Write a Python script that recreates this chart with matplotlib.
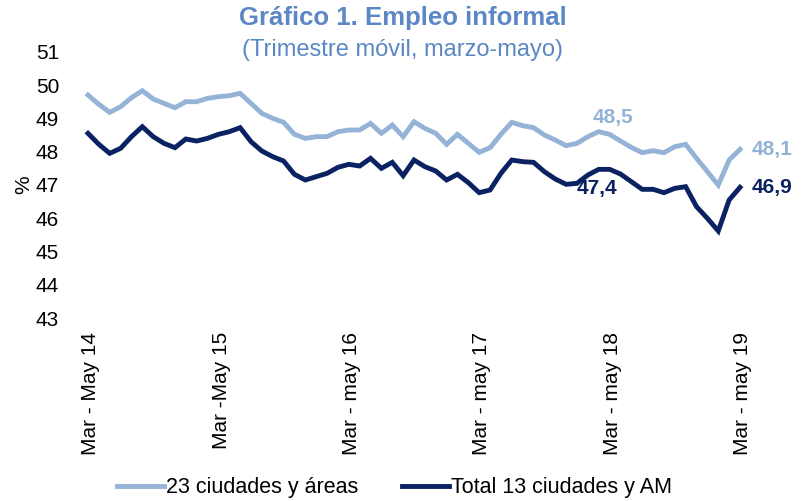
import matplotlib
matplotlib.use('Agg')
import matplotlib.pyplot as plt
import numpy as np


# ----------------------------------------------------------------------------------------
#                             DATA AREA

# trimestre movil, marzo-mayo 2014 -> marzo-mayo 2019 (61 meses)
ciudades_23 = [49.70, 49.42, 49.18, 49.35, 49.62, 49.83, 49.58, 49.45, 49.32, 49.50,
               49.50, 49.60, 49.65, 49.68, 49.75, 49.45, 49.15, 49.00, 48.88, 48.52,
               48.40, 48.45, 48.45, 48.60, 48.65, 48.65, 48.85, 48.55, 48.80, 48.45,
               48.90, 48.70, 48.55, 48.22, 48.52, 48.25, 47.98, 48.12, 48.52, 48.88,
               48.78, 48.72, 48.50, 48.35, 48.18, 48.25, 48.45, 48.60, 48.52, 48.32,
               48.13, 47.97, 48.03, 47.97, 48.15, 48.22, 47.80, 47.40, 47.00, 47.75,
               48.07]

total_13 = [48.55, 48.22, 47.95, 48.10, 48.45, 48.75, 48.45, 48.25, 48.12, 48.38,
            48.32, 48.40, 48.52, 48.60, 48.72, 48.30, 48.02, 47.85, 47.72, 47.32,
            47.15, 47.25, 47.35, 47.53, 47.62, 47.57, 47.80, 47.50, 47.68, 47.28,
            47.75, 47.55, 47.42, 47.15, 47.32, 47.07, 46.77, 46.85, 47.35, 47.75,
            47.70, 47.68, 47.40, 47.18, 47.02, 47.05, 47.30, 47.47, 47.47, 47.33,
            47.10, 46.87, 46.87, 46.77, 46.90, 46.95, 46.35, 46.00, 45.62, 46.55,
            46.93]

tick_pos    = [0, 12, 24, 36, 48, 60]
tick_labels = ["Mar - May 14", "Mar -May 15", "Mar - may 16",
               "Mar - may 17", "Mar - may 18", "Mar - may 19"]

# etiquetas de valor: (indice, texto)
labels_23 = [(48, "48,5"), (60, "48,1")]
labels_13 = [(48, "47,4"), (60, "46,9")]

serie_23 = "23 ciudades y áreas"
serie_13 = "Total 13 ciudades y AM"


# ----------------------------------------------------------------------------------------
#                             PLOTTING AREA

light = '#95B3D7'
dark = '#0B2262'
title_col = '#5B87C5'
plt.rcParams['font.family'] = ['Liberation Sans', 'DejaVu Sans']

fig = plt.figure(figsize=(8.05, 5.01), dpi=100)
ax = fig.add_axes([80 / 805, 1 - 318.3 / 501, 680 / 805, (318.3 - 51.7) / 501])

x = np.arange(len(ciudades_23))
ax.plot(x, ciudades_23, color=light, lw=3.5, solid_joinstyle='miter', label=serie_23)
ax.plot(x, total_13, color=dark, lw=3.5, solid_joinstyle='miter', label=serie_13)

# valores destacados
ax.text(labels_23[0][0] + 0.3, ciudades_23[labels_23[0][0]] + 0.22, labels_23[0][1],
        color=light, fontsize=15, fontweight='bold', ha='center', va='bottom')
ax.text(labels_23[1][0] + 1.1, ciudades_23[labels_23[1][0]], labels_23[1][1],
        color=light, fontsize=15, fontweight='bold', ha='left', va='center')
ax.text(labels_13[0][0] - 1.2, total_13[labels_13[0][0]] - 0.3, labels_13[0][1],
        color=dark, fontsize=15, fontweight='bold', ha='center', va='top')
ax.text(labels_13[1][0] + 1.1, total_13[labels_13[1][0]], labels_13[1][1],
        color=dark, fontsize=15, fontweight='bold', ha='left', va='center')

ax.set_xlim(-8 / 10.87, 60 + 20 / 10.87)
ax.set_ylim(43, 51)
ax.set_yticks(np.arange(43, 52, 1))
ax.tick_params(axis='y', labelsize=15, length=0, pad=15)
ax.set_xticks(np.array(tick_pos) + 0.25)
ax.set_xticklabels(tick_labels, rotation=90, fontsize=15)
ax.tick_params(axis='x', length=0, pad=10)
ax.set_ylabel('%', fontsize=15, labelpad=2)
for s in ax.spines.values():
    s.set_visible(False)

fig.text(0.5, 1 - 18 / 501, 'Gráfico 1. Empleo informal',
         fontsize=18.5, fontweight='bold', color=title_col, ha='center', va='center')
fig.text(0.5, 1 - 50 / 501, '(Trimestre móvil, marzo-mayo)',
         fontsize=17, color=title_col, ha='center', va='center')

fig.legend(loc='center', bbox_to_anchor=(0.49, 1 - 488 / 501), ncol=2, frameon=False,
           prop={'size': 15.5}, handlelength=2.2, handletextpad=0.1,
           columnspacing=2.0)

fig.savefig('out.png', dpi=100)
